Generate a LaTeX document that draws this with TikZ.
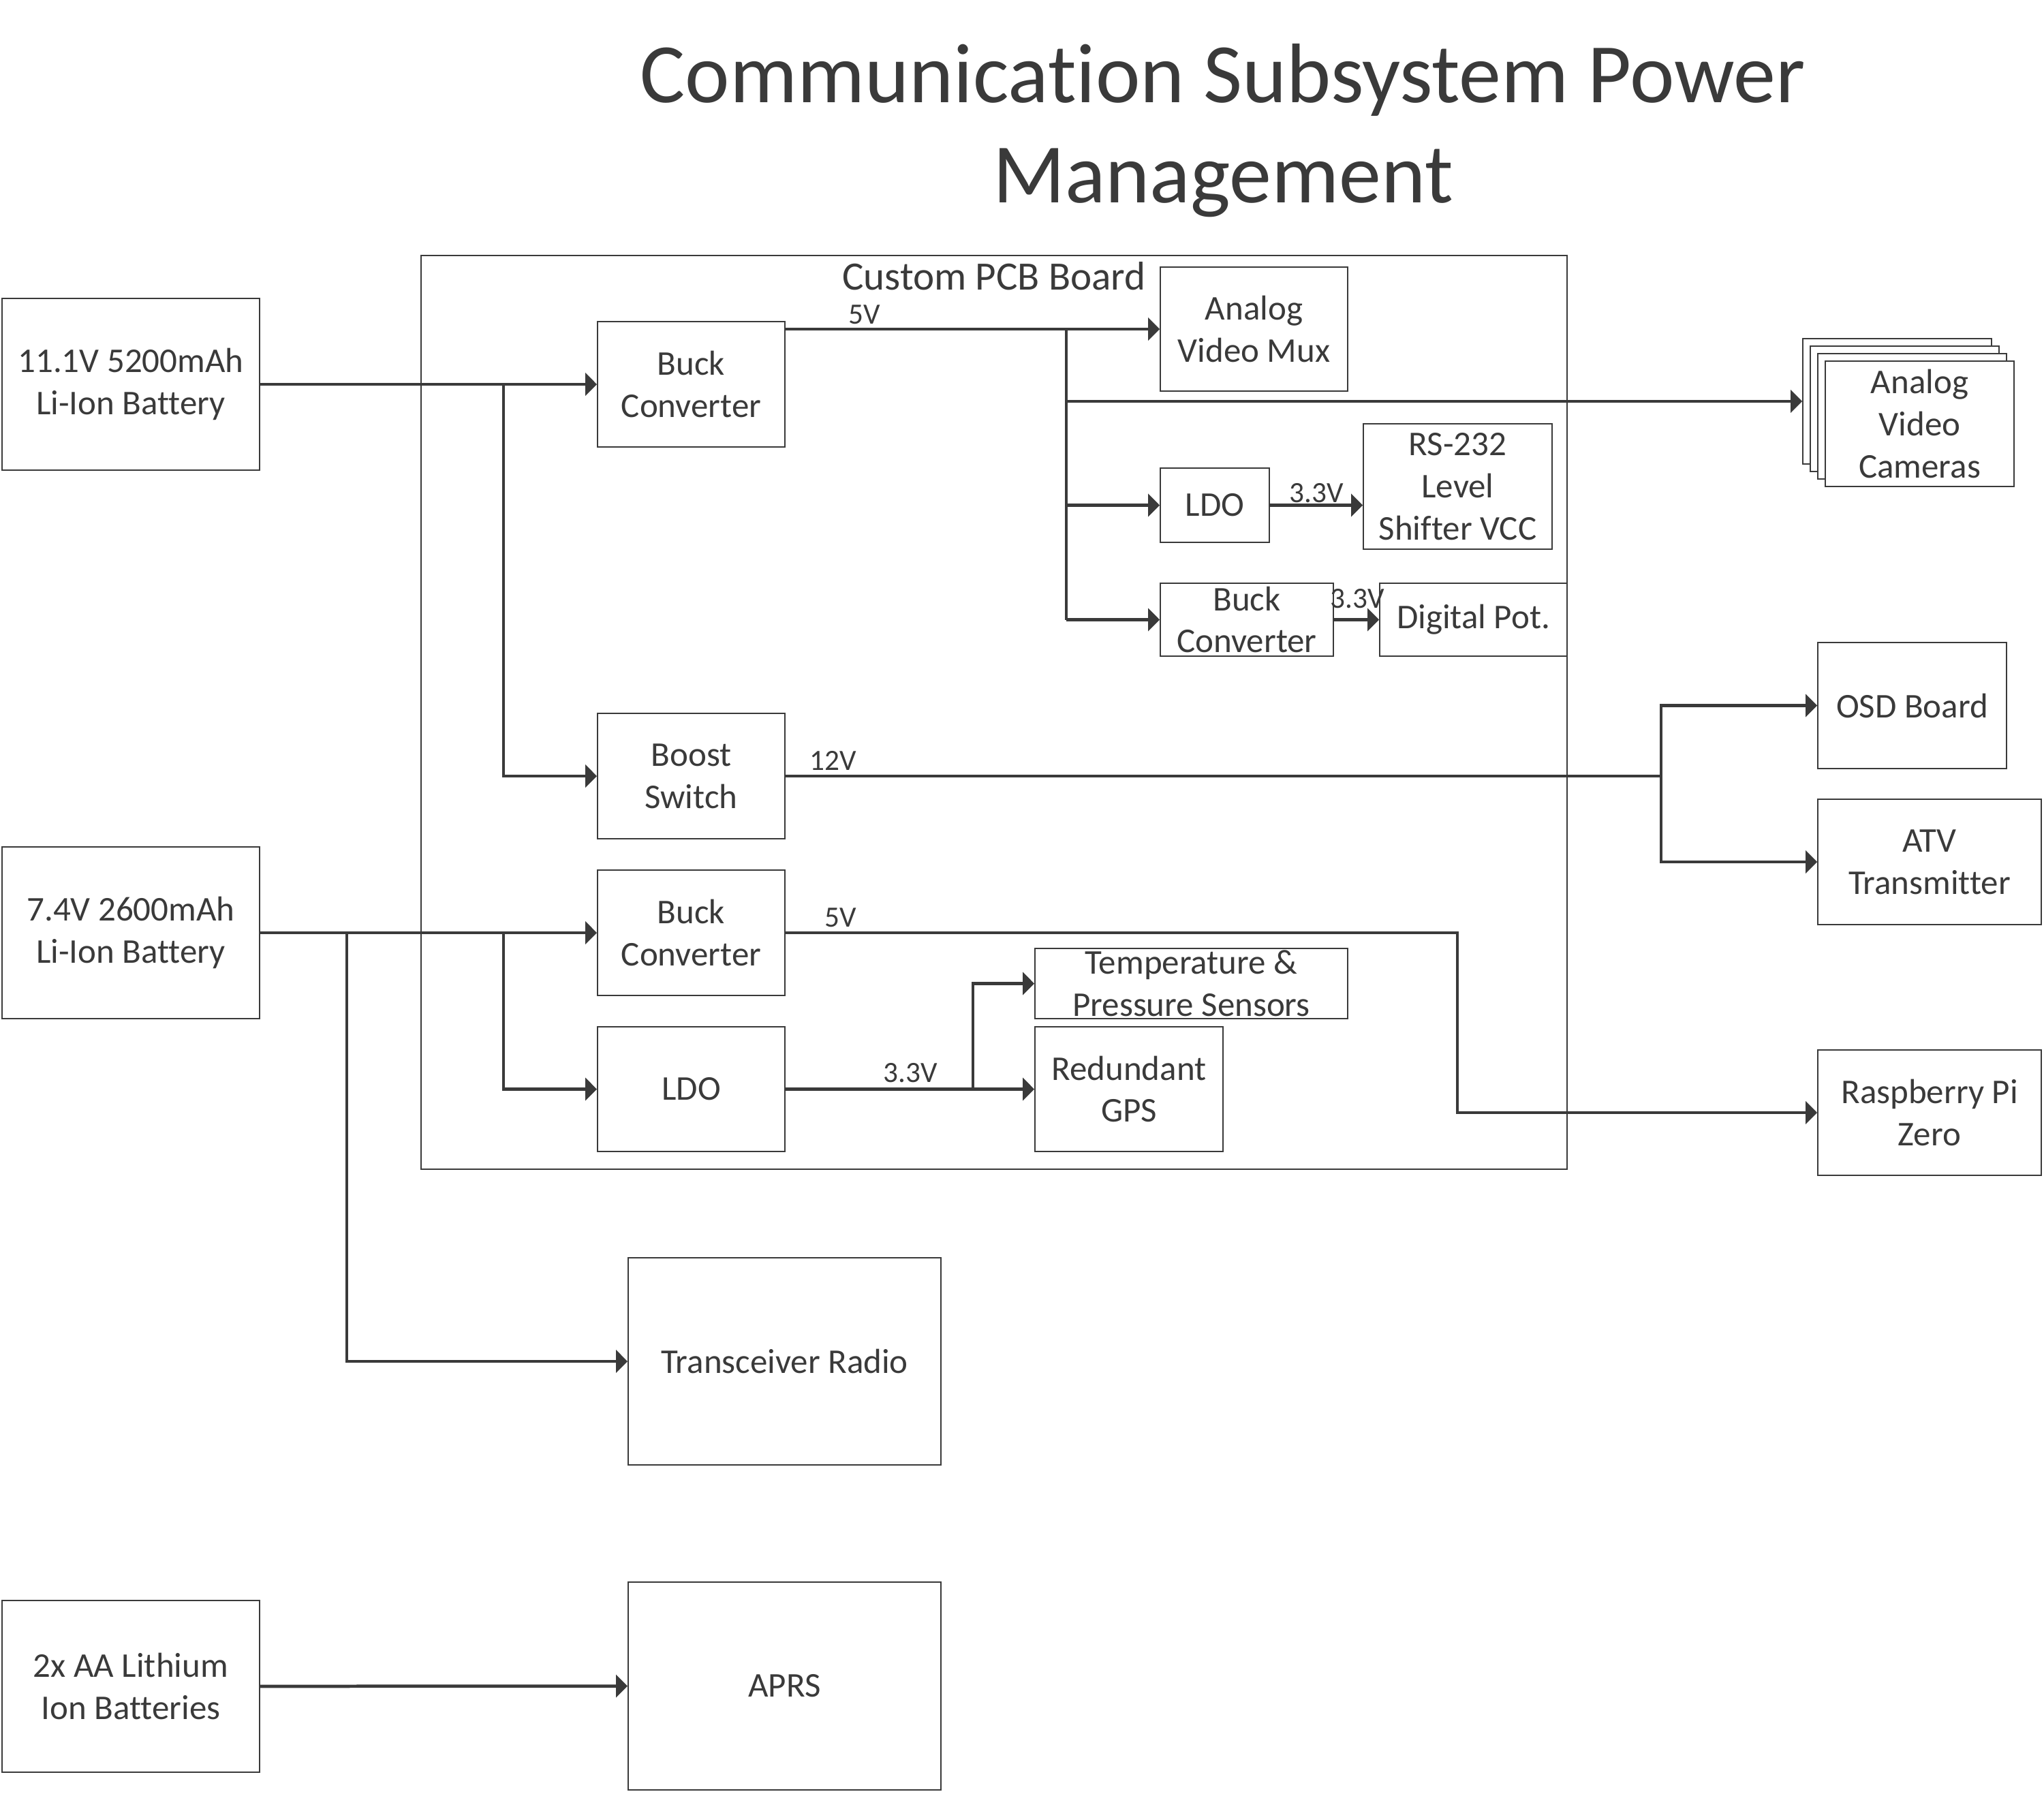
\documentclass[tikz,border=0pt]{standalone}
\usepackage{fontspec}
\setmainfont{Carlito}[Ligatures={NoCommon}]
\usepackage{xcolor}
\usepackage{tikz}
\usetikzlibrary{arrows.meta, positioning}

\definecolor{ink}{HTML}{3A3A3A}
\newcommand{\boxfont}{\fontsize{14.5}{17.6}\selectfont}
\newcommand{\voltfont}{\fontsize{12.3}{14.8}\selectfont}
\newcommand{\pcbfont}{\fontsize{16.8}{20}\selectfont}
\newcommand{\titlefont}{\fontsize{35.3}{41.8}\selectfont}

\begin{document}
\begin{tikzpicture}[
  blk/.style={draw=ink, line width=0.55pt, fill=white, align=center, inner sep=0pt, font=\boxfont, text=ink},
  wire/.style={draw=ink, line width=1.35pt},
  pwr/.style={wire, -{Triangle[length=0.17cm,width=0.33cm]}},
  volt/.style={font=\voltfont, text=ink, inner sep=0pt, anchor=base west}]
\useasboundingbox (0,0) rectangle (30,-26.32);

\node (title) [font=\titlefont, text=ink, align=center, anchor=base] at (17.95,-2.97) {Communication Subsystem Power\\Management};

% batteries
\node (bat1) [blk, minimum width=3.78cm, minimum height=2.52cm] at (1.92,-5.64) {11.1V 5200mAh\\Li-Ion Battery};
\node (bat2) [blk, minimum width=3.78cm, minimum height=2.52cm] at (1.92,-13.69) {7.4V 2600mAh\\Li-Ion Battery};
\node (bat3) [blk, minimum width=3.78cm, minimum height=2.52cm] at (1.92,-24.75) {2x AA Lithium\\Ion Batteries};

% custom board
\node (pcb) [draw=ink, line width=0.65pt, inner sep=0pt, minimum width=16.82cm, minimum height=13.41cm] at (14.59,-10.455) {};
\node (pcblbl) [font=\pcbfont, text=ink, inner sep=0pt, anchor=base] at (14.59,-4.25) {Custom PCB Board};

\node (buck1) [blk, minimum width=2.75cm, minimum height=1.84cm] at (10.145,-5.64) {Buck\\Converter};
\node (boost) [blk, minimum width=2.75cm, minimum height=1.84cm] at (10.145,-11.39) {Boost\\Switch};
\node (buck3) [blk, minimum width=2.75cm, minimum height=1.84cm] at (10.145,-13.69) {Buck\\Converter};
\node (ldo2) [blk, minimum width=2.75cm, minimum height=1.83cm] at (10.145,-15.985) {LDO};
\node (mux) [blk, minimum width=2.75cm, minimum height=1.82cm] at (18.405,-4.83) {Analog\\Video Mux};
\node (ldo1) [blk, minimum width=1.60cm, minimum height=1.09cm] at (17.83,-7.415) {LDO};
\node (rs232) [blk, minimum width=2.77cm, minimum height=1.84cm] at (21.395,-7.14) {RS-232\\Level\\Shifter VCC};
\node (buck2) [blk, minimum width=2.54cm, minimum height=1.07cm] at (18.30,-9.095) {Buck\\Converter};
\node (dpot) [blk, minimum width=2.75cm, minimum height=1.07cm] at (21.625,-9.095) {Digital Pot.};
\node (temp) [blk, minimum width=4.59cm, minimum height=1.03cm] at (17.485,-14.435) {Temperature \&\\Pressure Sensors};
\node (gps) [blk, minimum width=2.76cm, minimum height=1.83cm] at (16.57,-15.985) {Redundant\\GPS};

% loads outside the board
\foreach \k in {3,2,1}
  \node (cam\k) [blk, minimum width=2.77cm, minimum height=1.84cm] at (28.175-0.11*\k,-6.22+0.11*\k) {};
\node (cams) [blk, minimum width=2.77cm, minimum height=1.84cm] at (28.175,-6.22) {Analog\\Video\\Cameras};
\node (osd) [blk, minimum width=2.77cm, minimum height=1.85cm] at (28.065,-10.355) {OSD Board};
\node (atv) [blk, minimum width=3.28cm, minimum height=1.84cm] at (28.32,-12.65) {ATV\\Transmitter};
\node (rpi) [blk, minimum width=3.28cm, minimum height=1.84cm] at (28.32,-16.33) {Raspberry Pi\\Zero};
\node (trx) [blk, minimum width=4.59cm, minimum height=3.04cm] at (11.515,-19.98) {Transceiver Radio};
\node (aprs) [blk, minimum width=4.59cm, minimum height=3.05cm] at (11.515,-24.745) {APRS};

% 11.1V rail
\coordinate (j1) at (7.39,-5.64);
\draw[pwr] (bat1) -- (buck1);
\draw[pwr] (j1) |- (boost);
\coordinate (j5) at (15.65,-4.83);
\draw[pwr] (buck1.east |- mux) -- (mux);
\draw[wire] (j5) -- (j5 |- buck2);
\draw[pwr] (j5 |- cam3) -- (cam3);
\draw[pwr] (j5 |- ldo1) -- (ldo1);
\draw[pwr] (j5 |- buck2) -- (buck2);
\draw[pwr] (ldo1) -- (ldo1 -| rs232.west);
\draw[pwr] (buck2) -- (dpot);
\coordinate (j12) at (24.38,-11.39);
\draw[wire] (boost) -- (j12);
\draw[pwr] (j12) |- (osd);
\draw[pwr] (j12) |- (atv);

% 7.4V rail
\coordinate (j7a) at (5.09,-13.69);
\coordinate (j7b) at (7.39,-13.69);
\draw[pwr] (bat2) -- (buck3);
\draw[pwr] (j7a) |- (trx);
\draw[pwr] (j7b) |- (ldo2);
\coordinate (j5b) at (21.39,-13.69);
\draw[pwr] (buck3) -- (j5b) |- (rpi);
\draw[pwr] (ldo2) -- (gps);
\coordinate (j33) at (14.28,-15.985);
\draw[pwr] (j33) |- (temp);

\draw[pwr] (bat3) -- (aprs);

% voltage labels
\node (v5a) [volt] at (12.45,-4.75) {5V};
\node (v33a) [volt] at (18.92,-7.37) {3.3V};
\node (v33b) [volt] at (19.52,-8.92) {3.3V};
\node (v12) [volt] at (11.88,-11.30) {12V};
\node (v5b) [volt] at (12.10,-13.60) {5V};
\node (v33c) [volt] at (12.96,-15.88) {3.3V};
\end{tikzpicture}
\end{document}
